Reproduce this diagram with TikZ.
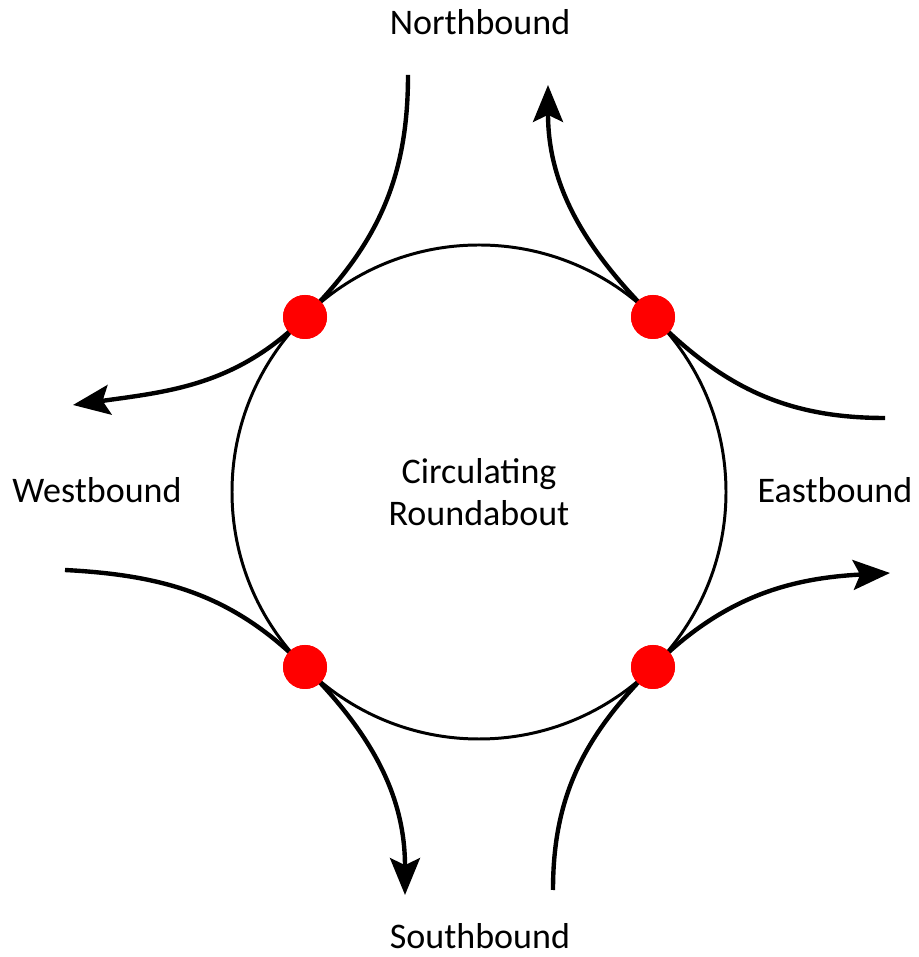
\documentclass[tikz,border=0pt]{standalone}
\usepackage{fontspec}
\setmainfont{Carlito}
\usetikzlibrary{arrows.meta, positioning}

\tikzset{
  conflict/.style={circle, fill=red, draw=none, minimum size=44*0.02cm, inner sep=0pt},
  lane/.style={line width=2.5pt},
  lanearrow/.style={lane, -{Stealth[length=21pt, width=17pt, inset=4pt]}},
  armlabel/.style={font=\fontsize{20.5}{24}\selectfont}
}

\begin{document}
\begin{tikzpicture}[x=0.02cm, y=0.02cm]
        \useasboundingbox (0,0) rectangle (919,957);

        % ring
        \node[draw, circle, line width=1.7pt, minimum size=494*0.02cm, inner sep=0pt,
              align=center, armlabel] (ring) at (479,465) {Circulating\\Roundabout};

        % conflict points
        \node[conflict] (nw) at (305,640) {};
        \node[conflict] (ne) at (653,640) {};
        \node[conflict] (sw) at (305,290) {};
        \node[conflict] (se) at (653,290) {};

        % free ends
        \coordinate (nin)  at (408,882);
        \coordinate (nout) at (548,872);
        \coordinate (ein)  at (885,539);
        \coordinate (eout) at (890,384);
        \coordinate (sin)  at (553,67);
        \coordinate (sout) at (405,62);
        \coordinate (win)  at (65,387);
        \coordinate (wout) at (73,552);

        % north arm
        \draw[lane] (nin) to[out=-90, in=45] (nw.center);
        \draw[lanearrow] (ne.center) to[out=135, in=-90] (nout);
        % east arm
        \draw[lane] (ein) to[out=180, in=-45] (ne.center);
        \draw[lanearrow] (se.center) to[out=45, in=183] (eout);
        % south arm
        \draw[lane] (sin) to[out=90, in=225] (se.center);
        \draw[lanearrow] (sw.center) to[out=-45, in=90] (sout);
        % west arm
        \draw[lane] (win) to[out=-3, in=135] (sw.center);
        \draw[lanearrow] (nw.center) to[out=225, in=8] (wout);

        % dots on top
        \foreach \p in {nw,ne,sw,se}
          \fill[red] (\p) circle (22);

        % labels
        \node[armlabel] (nlab) at (480,935) {Northbound};
        \node[armlabel] (slab) at (480,21)  {Southbound};
        \node[armlabel] (wlab) at (97,467)  {Westbound};
        \node[armlabel] (elab) at (835,467) {Eastbound};
\end{tikzpicture}
\end{document}
